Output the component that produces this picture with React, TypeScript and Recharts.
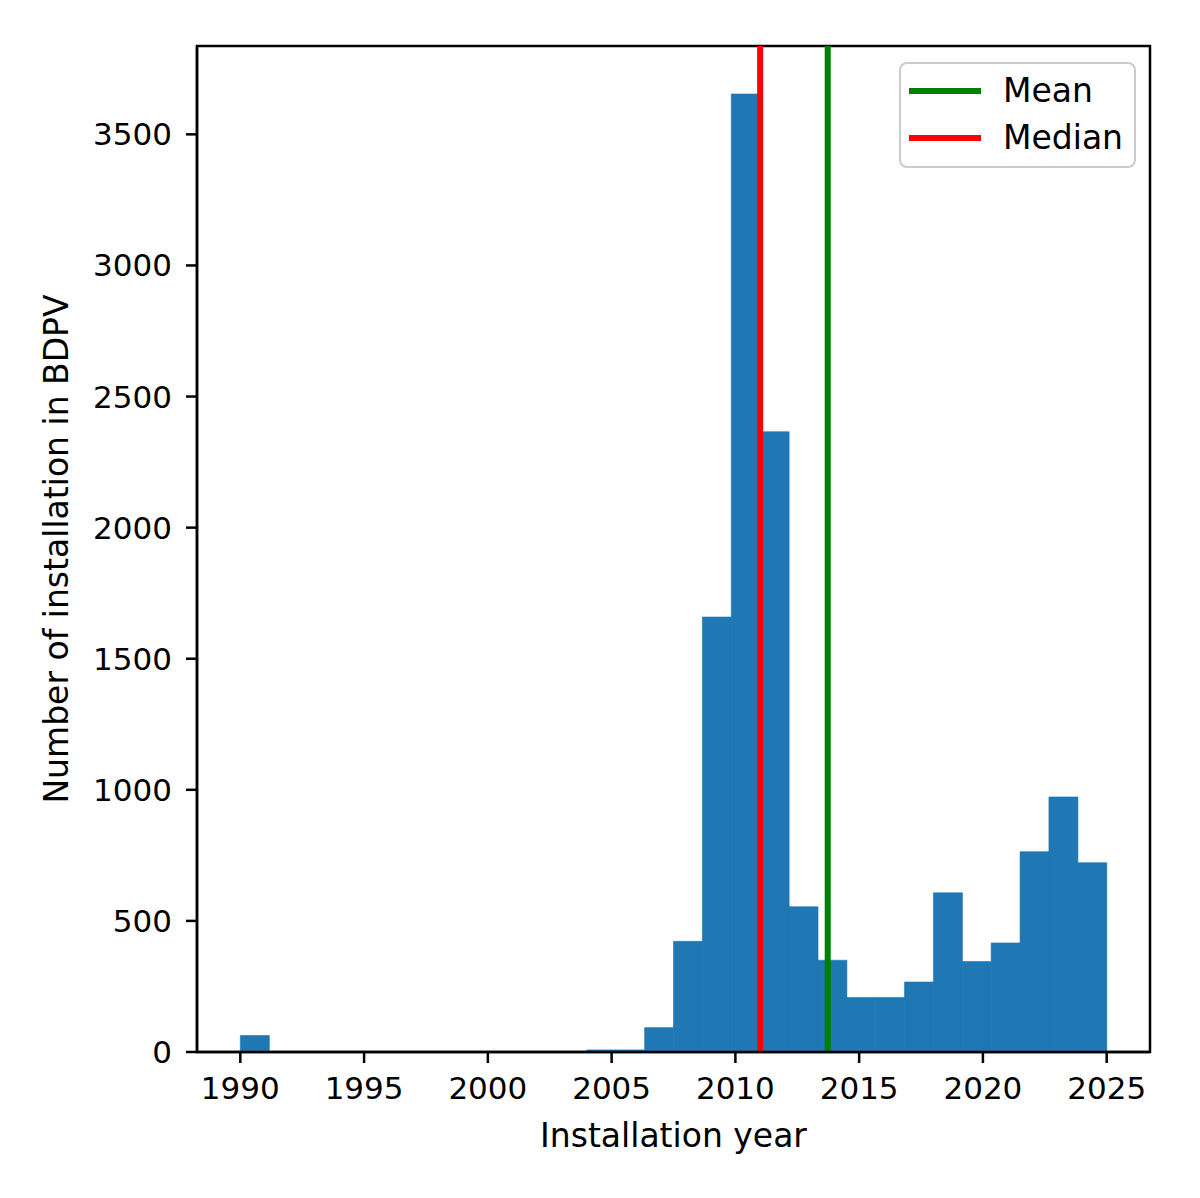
import React from 'react';
import {
  ComposedChart,
  Bar,
  XAxis,
  YAxis,
  ReferenceLine,
  ReferenceArea,
  Legend,
} from 'recharts';

// Histogram bin edges (30 bins between 1990 and 2025)
const binEdges = [
  1990.0, 1991.167, 1992.333, 1993.5, 1994.667, 1995.833, 1997.0, 1998.167,
  1999.333, 2000.5, 2001.667, 2002.833, 2004.0, 2005.167, 2006.333, 2007.5,
  2008.667, 2009.833, 2011.0, 2012.167, 2013.333, 2014.5, 2015.667, 2016.833,
  2018.0, 2019.167, 2020.333, 2021.5, 2022.667, 2023.833, 2025.0,
];

// Count of installations per bin
const binCounts = [
  63, 0, 0, 0, 0, 0, 0, 0, 0, 0, 0, 0, 8, 8, 93, 422, 1659, 3654, 2366, 554,
  350, 208, 208, 267, 607, 345, 416, 764, 973, 722,
];

const xTicks = [1990, 1995, 2000, 2005, 2010, 2015, 2020, 2025];
const yTicks = [0, 500, 1000, 1500, 2000, 2500, 3000, 3500];

const meanYear = 2013.73;
const medianYear = 2011.0;

const legendItems = [
  { label: 'Mean', color: '#008000' },
  { label: 'Median', color: '#ff0000' },
];

const xDomain: [number, number] = [1988.25, 2026.75];
const yDomain: [number, number] = [0, 3837];

const data = binCounts.map((count, i) => ({
  center: (binEdges[i] + binEdges[i + 1]) / 2,
  count,
}));

const FONT = '"DejaVu Sans", sans-serif';
const tickStyle = { fontSize: 31, fill: '#000', fontFamily: FONT };
const labelStyle = { fontSize: 33, fill: '#000', fontFamily: FONT };

const LegendBox = () => (
  <div
    style={{
      position: 'relative',
      width: 237,
      height: 106,
      boxSizing: 'border-box',
      border: '2px solid #cccccc',
      borderRadius: 8,
      background: 'rgba(255,255,255,0.8)',
      fontFamily: FONT,
      fontSize: 33,
      color: '#000',
    }}
  >
    {legendItems.map((it, i) => (
      <div
        key={it.label}
        style={{
          position: 'absolute',
          left: 0,
          top: 3 + i * 47,
          height: 47,
          width: '100%',
          display: 'flex',
          alignItems: 'center',
        }}
      >
        <div
          style={{
            position: 'absolute',
            left: 8,
            width: 72,
            height: 6,
            background: it.color,
          }}
        />
        <span style={{ position: 'absolute', left: 102, lineHeight: '47px', whiteSpace: 'nowrap' }}>
          {it.label}
        </span>
      </div>
    ))}
  </div>
);

export default function App() {
  return (
    <div style={{ width: 1184, height: 1182 }}>
      <ComposedChart
        width={1184}
        height={1182}
        data={data}
        margin={{ top: 38, right: 42, bottom: 0, left: 0 }}
        barCategoryGap={0}
        barGap={0}
        style={{ fontFamily: FONT }}
      >
        <XAxis
          dataKey="center"
          type="number"
          domain={xDomain}
          allowDataOverflow
          ticks={xTicks}
          interval={0}
          height={138}
          tickSize={11}
          tickMargin={14}
          tick={tickStyle}
          axisLine={{ stroke: '#000', strokeWidth: 2.5 }}
          tickLine={{ stroke: '#000', strokeWidth: 2.5 }}
          label={{
            value: 'Installation year',
            position: 'insideTop',
            offset: 72,
            style: labelStyle,
          }}
        />
        <YAxis
          type="number"
          domain={yDomain}
          allowDataOverflow
          ticks={yTicks}
          interval={0}
          width={189}
          tickSize={11}
          tickMargin={14}
          tick={tickStyle}
          axisLine={{ stroke: '#000', strokeWidth: 2.5 }}
          tickLine={{ stroke: '#000', strokeWidth: 2.5 }}
          label={{
            value: 'Number of installation in BDPV',
            angle: -90,
            position: 'insideLeft',
            offset: 48,
            style: { ...labelStyle, textAnchor: 'middle' },
          }}
        />
        <Bar
          dataKey="count"
          fill="#1f77b4"
          stroke="#1f77b4"
          strokeWidth={0.6}
          isAnimationActive={false}
        />
        <ReferenceLine x={medianYear} stroke="#ff0000" strokeWidth={6} />
        <ReferenceLine x={meanYear} stroke="#008000" strokeWidth={6} />
        <ReferenceArea
          x1={xDomain[0]}
          x2={xDomain[1]}
          y1={yDomain[0]}
          y2={yDomain[1]}
          fill="none"
          fillOpacity={0}
          stroke="#000"
          strokeWidth={2.5}
        />
        <Legend
          layout="vertical"
          align="center"
          verticalAlign="middle"
          content={() => <LegendBox />}
          wrapperStyle={{ left: 891, top: 54, width: 237, height: 106 }}
        />
      </ComposedChart>
    </div>
  );
}
